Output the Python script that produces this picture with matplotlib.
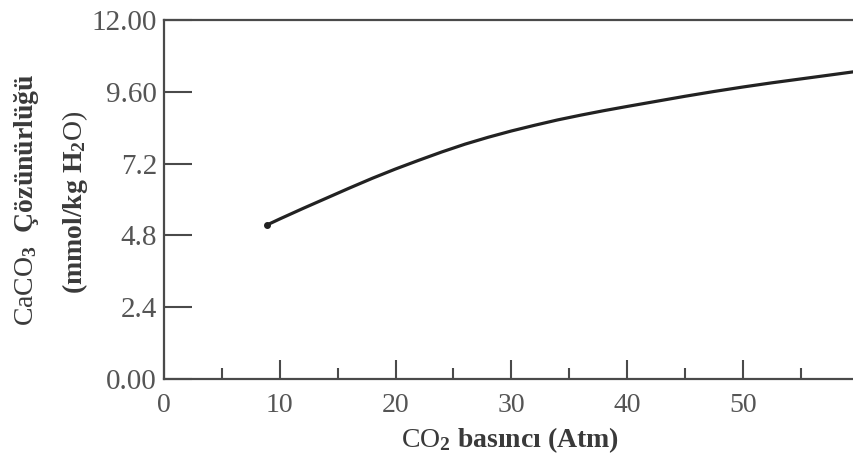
import matplotlib
matplotlib.use("Agg")
import matplotlib.pyplot as plt
import numpy as np

# Data
pressure = [8.9, 10, 12, 14, 16, 18, 20, 22, 24, 26, 28, 30, 32, 34, 36, 38, 40,
            42.5, 45, 47.5, 50, 52.5, 55, 57.5, 59.6]
solubility = [5.15, 5.35, 5.70, 6.04, 6.38, 6.71, 7.02, 7.31, 7.59, 7.85, 8.08,
              8.29, 8.48, 8.66, 8.82, 8.97, 9.11, 9.28, 9.45, 9.61, 9.76, 9.90,
              10.03, 10.16, 10.27]
x_ticks = [0, 10, 20, 30, 40, 50]
y_ticks = [0.0, 2.4, 4.8, 7.2, 9.6, 12.0]
y_tick_labels = ["0.00", "2.4", "4.8", "7.2", "9.60", "12.00"]

plt.rcParams['mathtext.fontset'] = 'custom'
plt.rcParams['mathtext.rm'] = 'Liberation Serif'
plt.rcParams['mathtext.bf'] = 'Liberation Serif:bold'
plt.rcParams['mathtext.it'] = 'Liberation Serif:italic'
plt.rcParams['font.family'] = ['Liberation Serif', 'DejaVu Serif']

fig = plt.figure(figsize=(8.54, 4.68), dpi=100)
ax = fig.add_axes([164/854, 1-379/468, 1-164/854, (379-20)/468])

xs = np.array(pressure)
ys = np.array(solubility)
ax.plot(xs, ys, color='#222222', lw=2.3, solid_capstyle='round', solid_joinstyle='round')
ax.plot([xs[0]], [ys[0]], 'o', color='#222222', ms=4)

ax.set_xlim(0, 59.6)
ax.set_ylim(0, 12.0)

spine_col = '#4a4a4a'
for s in ['left', 'bottom', 'top']:
    ax.spines[s].set_color(spine_col)
    ax.spines[s].set_linewidth(1.6)
ax.spines['right'].set_visible(False)

ax.set_xticks(x_ticks)
ax.set_xticklabels([str(v) for v in x_ticks])
ax.set_xticks([5, 15, 25, 35, 45, 55], minor=True)
ax.set_yticks(y_ticks)
ax.set_yticklabels(y_tick_labels)

lab_col = '#555555'
ax.tick_params(axis='x', which='major', direction='in', length=14, width=1.5,
               color=spine_col, pad=10, labelsize=20, labelcolor=lab_col, top=False)
ax.tick_params(axis='x', which='minor', direction='in', length=8, width=1.5,
               color=spine_col, top=False)
ax.tick_params(axis='y', which='major', direction='in', length=20, width=1.5,
               color=spine_col, pad=5, labelsize=21, labelcolor=lab_col, right=False)

txt_col = '#3a3a3a'
fig.text(27/854, 1-200/468, r"CaCO$_\mathbf{3}$  $\mathbf{Çözünürlüğü}$",
         rotation=90, ha='center', va='center', fontsize=20, color=txt_col)
fig.text(75/854, 1-202/468, r"$\mathbf{(mmol/kg}$ $\mathbf{H}_\mathbf{2}\mathrm{O)}$",
         rotation=90, ha='center', va='center', fontsize=20, color=txt_col)
fig.text(510/854, 1-440/468, r"CO$_\mathbf{2}$ $\mathbf{basıncı\ (Atm)}$",
         ha='center', va='center', fontsize=20, color=txt_col)

fig.savefig("out.png", dpi=100, facecolor='white')
